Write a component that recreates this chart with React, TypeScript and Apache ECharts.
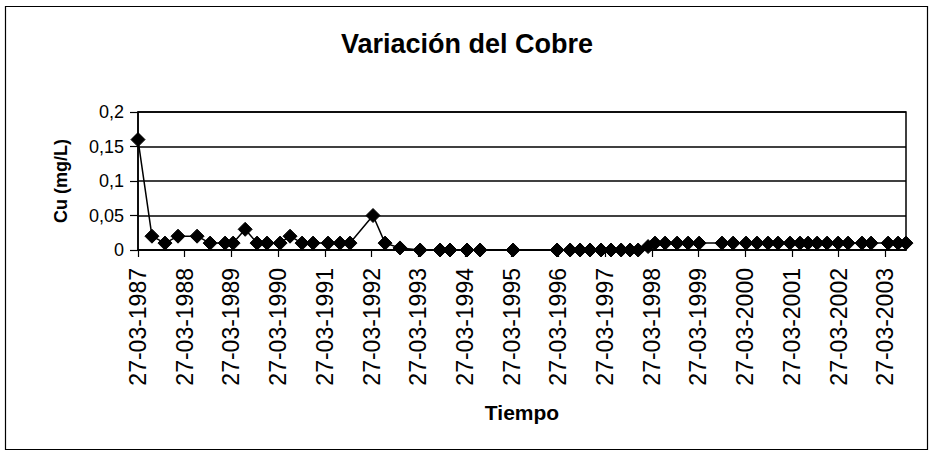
import React, { useEffect, useRef } from "react";
import * as echarts from "echarts";

const titleText = "Variación del Cobre";
const xAxisTitle = "Tiempo";
const yAxisTitle = "Cu (mg/L)";
const startDate = "1987-03-27";
const endDate = "2003-09-05";

const sampleDates = [
  "1987-03-27", "1987-07-14", "1987-10-24", "1988-02-03", "1988-07-01", "1988-10-11",
  "1989-02-05", "1989-04-09", "1989-07-12", "1989-10-13", "1989-12-30", "1990-04-11",
  "1990-06-28", "1990-09-30", "1990-12-25", "1991-04-21", "1991-07-24", "1991-10-10",
  "1992-04-07", "1992-07-10", "1992-11-04", "1993-04-10", "1993-09-13", "1993-11-30",
  "1994-04-12", "1994-07-23", "1995-04-07", "1996-03-16", "1996-06-26", "1996-09-12",
  "1996-11-29", "1997-02-23", "1997-05-12", "1997-07-30", "1997-10-08", "1997-12-10",
  "1998-02-26", "1998-04-21", "1998-07-09", "1998-10-11", "1999-01-05", "1999-04-01",
  "1999-09-27", "1999-12-23", "2000-04-02", "2000-06-27", "2000-09-21", "2000-12-08",
  "2001-03-12", "2001-05-29", "2001-07-31", "2001-10-10", "2001-12-27", "2002-03-23",
  "2002-06-09", "2002-09-26", "2002-12-06", "2003-04-18", "2003-07-05", "2003-09-05",
];

const cuValues = [
  0.16, 0.02, 0.01, 0.02, 0.02, 0.01,
  0.01, 0.01, 0.03, 0.01, 0.01, 0.01,
  0.02, 0.01, 0.01, 0.01, 0.01, 0.01,
  0.05, 0.01, 0.003, 0, 0, 0,
  0, 0, 0, 0, 0, 0,
  0, 0, 0, 0, 0, 0,
  0.005, 0.01, 0.01, 0.01, 0.01, 0.01,
  0.01, 0.01, 0.01, 0.01, 0.01, 0.01,
  0.01, 0.01, 0.01, 0.01, 0.01, 0.01,
  0.01, 0.01, 0.01, 0.01, 0.01, 0.01,
];

const yTicks = [0, 0.05, 0.1, 0.15, 0.2];

const DAY = 86400000;
const T0 = Date.parse(startDate);
const toDays = (s: string) => (Date.parse(s) - T0) / DAY;

const FONT = "Liberation Sans, Arial, Helvetica, sans-serif";

export default function App() {
  const ref = useRef<HTMLDivElement>(null);

  useEffect(() => {
    if (!ref.current) return;
    const chart = echarts.init(ref.current, null, { renderer: "svg" });
    const data = sampleDates.map((d, i) => [toDays(d), cuValues[i]]);
    const option: any = {
      animation: false,
      backgroundColor: "#ffffff",
      title: {
        text: titleText,
        left: "center",
        top: 25,
        textStyle: { fontFamily: FONT, fontSize: 27, fontWeight: "bold", color: "#000" },
      },
      graphic: [
        {
          type: "rect",
          shape: { x: 5.5, y: 6.5, width: 922, height: 443 },
          style: { fill: "none", stroke: "#000", lineWidth: 1.2 },
          silent: true,
        },
      ],
      grid: {
        left: 138,
        right: 28,
        top: 112,
        bottom: 207,
        show: true,
        borderColor: "#000",
        borderWidth: 1.5,
        backgroundColor: "transparent",
      },
      xAxis: {
        type: "value",
        min: 0,
        max: toDays(endDate),
        interval: 365.25,
        name: xAxisTitle,
        nameLocation: "middle",
        nameGap: 152,
        nameTextStyle: { fontFamily: FONT, fontSize: 21, fontWeight: "bold", color: "#000" },
        axisLine: { show: true, lineStyle: { color: "#000", width: 1.5 } },
        axisTick: { show: true, inside: false, length: 7, lineStyle: { color: "#000", width: 1.2 } },
        splitLine: { show: false },
        axisLabel: {
          rotate: 90,
          margin: 18,
          showMaxLabel: false,
          fontFamily: FONT,
          fontSize: 23,
          color: "#000",
          formatter: (v: number) => {
            const year = 1987 + Math.round(v / 365.25);
            return "27-03-" + year;
          },
        },
      },
      yAxis: {
        type: "value",
        min: yTicks[0],
        max: yTicks[yTicks.length - 1],
        interval: 0.05,
        name: yAxisTitle,
        nameLocation: "middle",
        nameRotate: 90,
        nameGap: 68,
        nameTextStyle: { fontFamily: FONT, fontSize: 18, fontWeight: "bold", color: "#000" },
        axisLine: { show: true, lineStyle: { color: "#000", width: 1.5 } },
        axisTick: { show: true, inside: false, length: 8, lineStyle: { color: "#000", width: 1.2 } },
        splitLine: { show: true, lineStyle: { color: "#000", width: 1.5 } },
        axisLabel: {
          margin: 14,
          fontFamily: FONT,
          fontSize: 18,
          color: "#000",
          formatter: (v: number) => Number(v.toFixed(2)).toString().replace(".", ","),
        },
      },
      series: [
        {
          type: "line",
          data,
          symbol: "diamond",
          symbolSize: 14,
          showAllSymbol: true,
          clip: false,
          lineStyle: { color: "#000", width: 1.5 },
          itemStyle: { color: "#000", borderColor: "#000" },
        },
      ],
    };
    chart.setOption(option);
    return () => chart.dispose();
  }, []);

  return (
    <div
      ref={ref}
      style={{ position: "fixed", left: 0, top: 0, width: 934, height: 457, background: "#fff" }}
    />
  );
}
